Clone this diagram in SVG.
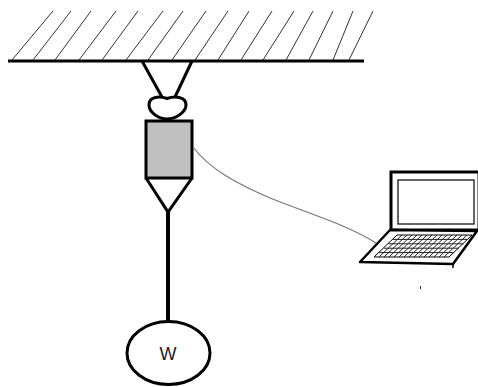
<svg xmlns="http://www.w3.org/2000/svg" width="478" height="387" viewBox="0 0 478 387">
  <style>
    .hatch { stroke: #333; stroke-width: 1; }
    .thick { stroke: #000; stroke-width: 3; fill: none; stroke-linejoin: miter; }
    .key { stroke: #222; stroke-width: 1; }
    .label { font-family: "Liberation Sans", Arial, sans-serif; font-size: 18px; fill: #1c1c2a; }
  </style>
  <rect width="478" height="387" fill="#fff"/>

  <!-- ceiling with hatching -->
  <g id="ceiling">
    <g class="hatch">
      <line x1="12" y1="60" x2="53" y2="11"/>
      <line x1="33" y1="60" x2="71" y2="11"/>
      <line x1="55" y1="60" x2="91" y2="11"/>
      <line x1="79" y1="60" x2="116" y2="11"/>
      <line x1="102" y1="60" x2="138" y2="11"/>
      <line x1="126" y1="60" x2="163" y2="11"/>
      <line x1="148" y1="60" x2="183" y2="11"/>
      <line x1="172" y1="60" x2="206" y2="11"/>
      <line x1="195" y1="60" x2="228" y2="11"/>
      <line x1="218" y1="60" x2="249" y2="11"/>
      <line x1="241" y1="60" x2="272" y2="11"/>
      <line x1="263" y1="60" x2="294" y2="11"/>
      <line x1="286" y1="60" x2="313" y2="11"/>
      <line x1="309" y1="60" x2="333" y2="11"/>
      <line x1="333" y1="60" x2="353" y2="11"/>
      <line x1="349" y1="60" x2="373" y2="11"/>
    </g>
    <line x1="8" y1="61" x2="364" y2="61" stroke="#000" stroke-width="3"/>
  </g>

  <!-- hanger, shackle, load cell and cone -->
  <g id="hanger">
    <line class="thick" x1="142" y1="61" x2="162" y2="97"/>
    <line class="thick" x1="192" y1="61" x2="175" y2="97"/>
  </g>
  <g id="shackle">
    <path class="thick" d="M167,98.5 C160,96 149,96 149,105 C149,112 158,119 167,119 C176,119 186,112 186,105 C186,96 174,96 167,98.5 Z" fill="#fff"/>
  </g>
  <g id="load-cell">
    <rect x="146" y="121" width="46" height="57" fill="#c0c0c0" stroke="#000" stroke-width="3"/>
    <path class="thick" d="M146,178 L168,212 L192,178"/>
  </g>

  <!-- connectors -->
  <g id="connectors">
    <line x1="168" y1="211" x2="168" y2="321" stroke="#000" stroke-width="4"/>
    <path d="M193,147 C210,170 240,185 270,198 C310,214 350,226 376,243" fill="none" stroke="#777" stroke-width="1.2"/>
  </g>

  <!-- weight -->
  <g id="weight">
    <ellipse cx="168.5" cy="353" rx="41.5" ry="31.5" fill="#fff" stroke="#000" stroke-width="3"/>
    <text class="label" x="168" y="360" text-anchor="middle">W</text>
  </g>

  <!-- laptop -->
  <g id="laptop">
    <rect x="391" y="172" width="88" height="58" fill="#fff" stroke="#000" stroke-width="3"/>
    <rect x="398" y="180" width="76" height="44" fill="#fff" stroke="#000" stroke-width="1.2"/>
    <polygon points="390,230 477,231 453,264 360,262" fill="#fff" stroke="#000" stroke-width="2.5" stroke-linejoin="round"/>
    <line x1="453" y1="264" x2="453" y2="268" stroke="#000" stroke-width="1.5"/>
    <!-- keyboard -->
    <polygon points="397,235 472,235 449,257 374,257" fill="#fff" stroke="#000" stroke-width="1"/>
    <g class="key">
      <line x1="393" y1="239.4" x2="468" y2="239.4"/>
      <line x1="388.4" y1="243.8" x2="463.4" y2="243.8"/>
      <line x1="383.8" y1="248.2" x2="458.8" y2="248.2"/>
      <line x1="379" y1="252.6" x2="454" y2="252.6"/>
      <line x1="402" y1="235" x2="379" y2="257"/>
      <line x1="407" y1="235" x2="384" y2="257"/>
      <line x1="412" y1="235" x2="389" y2="257"/>
      <line x1="417" y1="235" x2="394" y2="257"/>
      <line x1="422" y1="235" x2="399" y2="257"/>
      <line x1="427" y1="235" x2="404" y2="257"/>
      <line x1="432" y1="235" x2="409" y2="257"/>
      <line x1="437" y1="235" x2="414" y2="257"/>
      <line x1="442" y1="235" x2="419" y2="257"/>
      <line x1="447" y1="235" x2="424" y2="257"/>
      <line x1="452" y1="235" x2="429" y2="257"/>
      <line x1="457" y1="235" x2="434" y2="257"/>
      <line x1="462" y1="235" x2="439" y2="257"/>
      <line x1="467" y1="235" x2="444" y2="257"/>
    </g>
  </g>

  <!-- small mark below the laptop -->
  <rect x="420" y="286" width="1" height="3" fill="#333"/>
</svg>
